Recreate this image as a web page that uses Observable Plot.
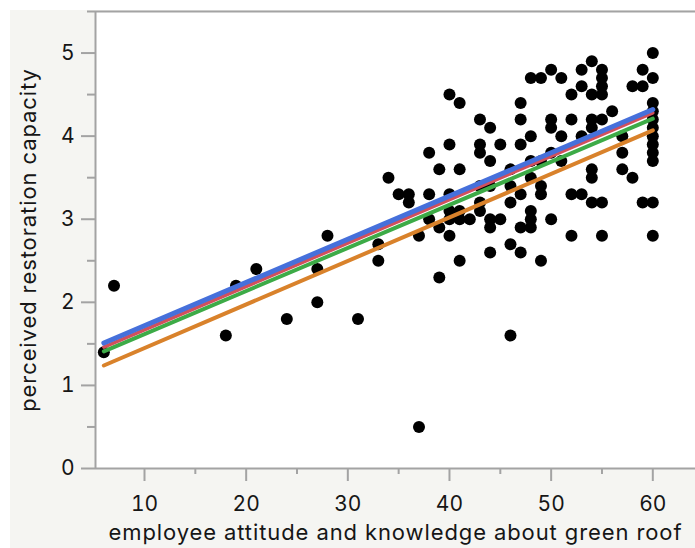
<!DOCTYPE html>
<html>
<head>
<meta charset="utf-8">
<script src="https://cdn.jsdelivr.net/npm/d3@7"></script>
<script src="https://cdn.jsdelivr.net/npm/@observablehq/plot@0.6"></script>
<style>
  html, body { margin: 0; padding: 0; background: #ffffff; }
  #chart { position: absolute; left: 10px; top: 10px; width: 685px; height: 538px; background: #f5f5f2; }
  #chart svg { display: block; background: transparent; }
</style>
</head>
<body>
<div id="chart"></div>
<script>
// ---- data ----
const attitude = [
  6, 7, 18, 19, 21, 24, 27, 27, 28, 31,
  33, 33, 34, 35, 36, 36, 37, 37,
  38, 38, 38, 39, 39, 39,
  40, 40, 40, 40, 40, 40,
  41, 41, 41, 41, 41, 42,
  43, 43, 43, 43, 43, 43,
  44, 44, 44, 44, 44, 44,
  45, 45,
  46, 46, 46, 46, 46,
  47, 47, 47, 47, 47, 47,
  48, 48, 48, 48, 48, 48, 48,
  49, 49, 49, 49, 49,
  50, 50, 50, 50, 50,
  51, 51, 51,
  52, 52, 52, 52,
  53, 53, 53, 53,
  54, 54, 54, 54, 54, 54, 54,
  55, 55, 55, 55, 55, 55, 55,
  56,
  57, 57, 57,
  58, 58,
  59, 59, 59,
  60, 60, 60, 60, 60, 60, 60, 60, 60, 60, 60, 60
];
const restoration = [
  1.4, 2.2, 1.6, 2.2, 2.4, 1.8, 2.4, 2.0, 2.8, 1.8,
  2.7, 2.5, 3.5, 3.3, 3.3, 3.2, 2.8, 0.5,
  3.8, 3.3, 3.0, 3.6, 2.9, 2.3,
  4.5, 3.9, 3.3, 3.1, 3.0, 2.8,
  4.4, 3.6, 3.1, 3.0, 2.5, 3.0,
  4.2, 3.9, 3.8, 3.4, 3.2, 3.1,
  4.1, 3.7, 3.4, 3.0, 2.9, 2.6,
  3.9, 3.0,
  3.6, 3.4, 3.2, 2.7, 1.6,
  4.4, 4.2, 3.9, 3.3, 2.9, 2.6,
  4.7, 4.0, 3.7, 3.5, 3.1, 3.0, 2.9,
  4.7, 3.7, 3.4, 3.3, 2.5,
  4.8, 4.2, 4.1, 3.8, 3.0,
  4.7, 4.0, 3.7,
  4.5, 4.2, 3.3, 2.8,
  4.8, 4.6, 4.0, 3.3,
  4.9, 4.5, 4.2, 4.1, 3.6, 3.5, 3.2,
  4.8, 4.7, 4.6, 4.5, 4.2, 3.2, 2.8,
  4.3,
  4.0, 3.8, 3.6,
  4.6, 3.5,
  4.8, 4.6, 3.2,
  5.0, 4.7, 4.4, 4.3, 4.2, 4.1, 4.0, 3.9, 3.8, 3.7, 3.2, 2.8
];

// fitted lines (drawn bottom to top)
const fitNames = ["orange", "green", "red", "blue"];
const fitX = [6, 60];
const fitStartY = [1.24, 1.41, 1.46, 1.51];
const fitEndY = [4.07, 4.21, 4.28, 4.32];

const xMajorTicks = [10, 20, 30, 40, 50, 60];
const xMinorTicks = [15, 25, 35, 45, 55];
const yMajorTicks = [0, 1, 2, 3, 4, 5];
const yMinorTicks = [0.5, 1.5, 2.5, 3.5, 4.5, 5.5];

const xTitle = "employee attitude and knowledge about green roof";
const yTitle = "perceived restoration capacity";

// ---- build tables ----
const points = attitude.map((a, i) => ({a, r: restoration[i]}));
const fitColors = {orange: "#d9822b", green: "#3dab47", red: "#d2505c", blue: "#4670db"};
const fitWidths = {orange: 4, green: 4, red: 3.5, blue: 5};
const fitRows = fitNames.flatMap((n, i) => [
  {name: n, a: fitX[0], r: fitStartY[i]},
  {name: n, a: fitX[1], r: fitEndY[i]}
]);

const axisGray = "#a3a3a3";
const textColor = "#161616";
const fs = 21;
const titleFs = 22;

const chart = Plot.plot({
  width: 685,
  height: 538,
  marginLeft: 85,
  marginRight: 0,
  marginTop: 1,
  marginBottom: 80,
  style: {fontFamily: "Inter, 'Liberation Sans', Arial, sans-serif", background: "transparent", overflow: "visible"},
  x: {domain: [5.18, 64.2]},
  y: {domain: [0, 5.5]},
  marks: [
    Plot.frame({fill: "white", stroke: null}),
    Plot.axisX(xMinorTicks, {tickSize: 6, tickFormat: () => "", stroke: axisGray, strokeWidth: 2, label: null}),
    Plot.axisX(xMajorTicks, {tickSize: 13, tickPadding: 15, fontSize: fs, stroke: axisGray, strokeWidth: 2, color: textColor, tickFormat: d3.format("d"), label: null}),
    Plot.axisY(yMinorTicks, {tickSize: 8, tickFormat: () => "", stroke: axisGray, strokeWidth: 2, label: null}),
    Plot.axisY(yMajorTicks, {tickSize: 14, tickPadding: 7, fontSize: fs, stroke: axisGray, strokeWidth: 2, color: textColor, tickFormat: d3.format("d"), label: null}),
    Plot.ruleY([5.5], {stroke: axisGray, strokeWidth: 2}),
    Plot.ruleY([0], {stroke: axisGray, strokeWidth: 2}),
    Plot.ruleX([5.18], {stroke: axisGray, strokeWidth: 2}),
    Plot.dot(points, {x: "a", y: "r", r: 6, fill: "black", stroke: null}),
    ...fitNames.map(n => Plot.line(fitRows.filter(d => d.name === n), {x: "a", y: "r", stroke: fitColors[n], strokeWidth: fitWidths[n]})),
    Plot.text([yTitle], {frameAnchor: "left", textAnchor: "middle", dx: -67, rotate: -90, fontSize: titleFs, fill: textColor}),
    Plot.text([xTitle], {frameAnchor: "bottom", textAnchor: "middle", dy: 71, fontSize: titleFs, fill: textColor})
  ]
});
d3.select(chart).selectAll("text")
  .filter(function () { return this.textContent === xTitle || this.textContent === yTitle; })
  .attr("letter-spacing", "0.9px");
document.getElementById("chart").appendChild(chart);
</script>
</body>
</html>
